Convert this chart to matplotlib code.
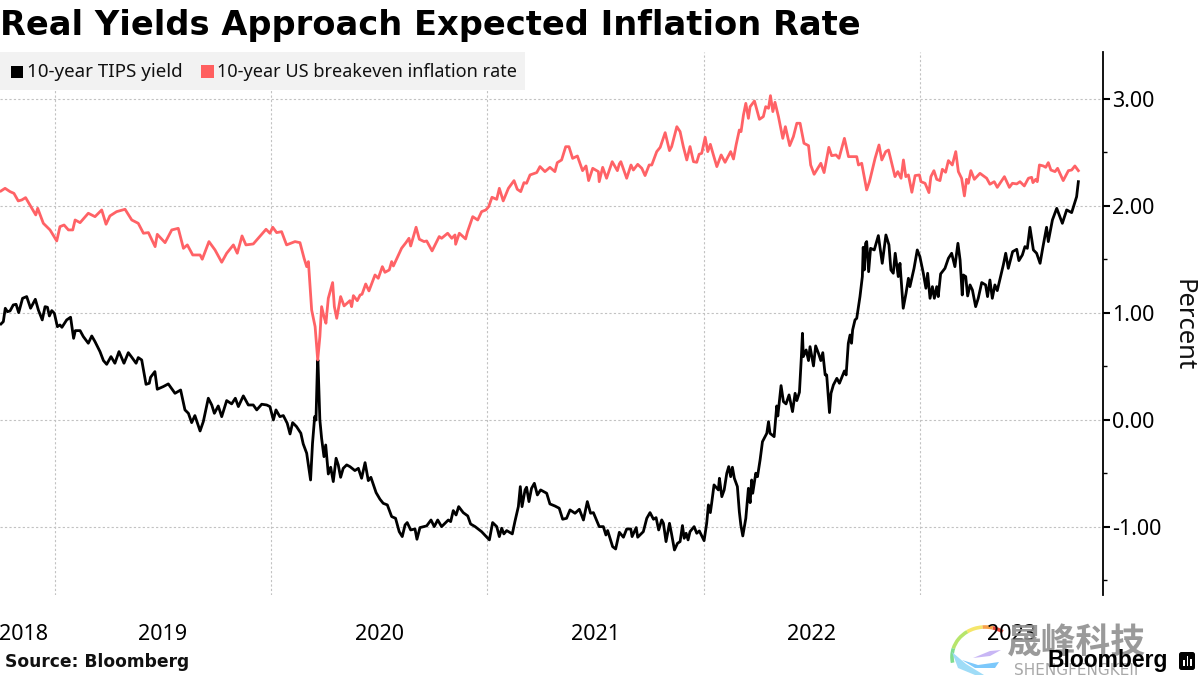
import matplotlib
matplotlib.use("Agg")
import matplotlib.pyplot as plt
from matplotlib.patches import Rectangle, FancyBboxPatch, Arc, Polygon
from matplotlib.ticker import FixedLocator, FuncFormatter, NullFormatter
from matplotlib.transforms import IdentityTransform

TITLE = "Real Yields Approach Expected Inflation Rate"
SOURCE = "Source: Bloomberg"
TIPS_LABEL = "10-year TIPS yield"
BE_LABEL = "10-year US breakeven inflation rate"
Y_LABEL = "Percent"
YEAR_LABELS = ["2018", "2019", "2020", "2021", "2022", "2023"]
YEAR_GRID = [2019, 2020, 2021, 2022, 2023]
Y_MAJOR = [-1, 0, 1, 2, 3]
Y_MINOR = [-1.5, -0.5, 0.5, 1.5, 2.5]

tips_t = [2018.750,2018.761,2018.770,2018.780,2018.792,2018.807,2018.820,2018.832,2018.850,2018.869,2018.887,2018.909,2018.923,2018.941,2018.954,2018.965,2018.974,2018.985,2018.997,
2019.011,2019.023,2019.032,2019.054,2019.072,2019.086,2019.094,2019.116,2019.131,2019.154,2019.170,2019.185,2019.208,2019.224,2019.239,2019.259,2019.277,2019.296,2019.319,2019.339,2019.355,2019.375,2019.385,2019.401,2019.421,2019.436,2019.442,2019.462,2019.473,2019.501,2019.524,2019.555,2019.581,2019.601,2019.617,2019.632,2019.647,2019.671,2019.686,2019.709,2019.725,2019.737,2019.755,2019.771,2019.794,2019.817,2019.834,2019.848,2019.871,2019.894,2019.917,2019.933,2019.956,2019.979,2019.994,
2020.010,2020.022,2020.040,2020.056,2020.074,2020.087,2020.099,2020.117,2020.137,2020.148,2020.164,2020.182,2020.191,2020.201,2020.207,2020.214,2020.216,2020.225,2020.233,2020.244,2020.252,2020.264,2020.275,2020.287,2020.300,2020.310,2020.321,2020.333,2020.349,2020.364,2020.387,2020.403,2020.418,2020.434,2020.449,2020.461,2020.485,2020.503,2020.518,2020.537,2020.557,2020.575,2020.592,2020.606,2020.619,2020.629,2020.645,2020.665,2020.674,2020.688,2020.719,2020.739,2020.754,2020.770,2020.788,2020.819,2020.830,2020.842,2020.855,2020.867,2020.888,2020.909,2020.922,2020.943,2020.973,
2021.009,2021.024,2021.043,2021.055,2021.066,2021.076,2021.089,2021.115,2021.127,2021.143,2021.152,2021.160,2021.174,2021.181,2021.192,2021.204,2021.217,2021.231,2021.246,2021.274,2021.289,2021.312,2021.332,2021.348,2021.366,2021.382,2021.405,2021.425,2021.444,2021.462,2021.477,2021.490,2021.517,2021.536,2021.548,2021.556,2021.579,2021.593,2021.610,2021.629,2021.644,2021.663,2021.669,2021.688,2021.695,2021.721,2021.737,2021.752,2021.768,2021.780,2021.792,2021.806,2021.814,2021.826,2021.842,2021.851,2021.865,2021.879,2021.891,2021.902,2021.910,2021.919,2021.928,2021.937,2021.956,2021.968,2021.980,
2022.002,2022.014,2022.022,2022.031,2022.037,2022.048,2022.068,2022.073,2022.084,2022.095,2022.107,2022.116,2022.125,2022.133,2022.142,2022.156,2022.165,2022.172,2022.181,2022.195,2022.207,2022.215,2022.222,2022.227,2022.241,2022.249,2022.261,2022.272,2022.292,2022.300,2022.307,2022.326,2022.338,2022.343,2022.358,2022.369,2022.381,2022.395,2022.411,2022.423,2022.431,2022.443,2022.452,2022.457,2022.461,2022.474,2022.485,2022.492,2022.508,2022.518,2022.531,2022.542,2022.551,2022.562,2022.569,2022.582,2022.589,2022.600,2022.616,2022.628,2022.651,2022.659,2022.669,2022.677,2022.684,2022.689,2022.700,2022.708,2022.723,2022.734,2022.738,2022.743,2022.749,2022.754,2022.763,2022.772,2022.789,2022.808,2022.826,2022.843,2022.857,2022.866,2022.877,2022.886,2022.900,2022.908,2022.923,2022.936,2022.947,2022.954,2022.973,2022.988,
2023.000,2023.016,2023.028,2023.036,2023.047,2023.058,2023.067,2023.078,2023.085,2023.096,2023.116,2023.132,2023.147,2023.162,2023.176,2023.186,2023.196,2023.201,2023.212,2023.221,2023.232,2023.243,2023.258,2023.270,2023.286,2023.304,2023.313,2023.324,2023.335,2023.347,2023.358,2023.386,2023.397,2023.409,2023.429,2023.448,2023.458,2023.474,2023.486,2023.497,2023.509,2023.525,2023.540,2023.556,2023.568,2023.586,2023.594,2023.613,2023.633,2023.659,2023.679,2023.702,2023.713,2023.725,2023.733]

tips_v = [0.897,0.919,1.044,1.012,1.019,1.075,1.081,1.003,1.137,1.153,1.044,1.128,1.028,0.935,1.059,1.053,0.972,1.022,0.997,
0.872,0.888,0.866,0.935,0.960,0.763,0.835,0.835,0.779,0.717,0.785,0.732,0.639,0.555,0.520,0.592,0.530,0.639,0.530,0.629,0.586,0.530,0.583,0.561,0.333,0.343,0.399,0.452,0.287,0.312,0.337,0.249,0.280,0.094,0.062,-0.025,0.041,-0.103,-0.015,0.203,0.140,0.062,0.131,0.031,0.181,0.150,0.203,0.125,0.225,0.140,0.140,0.094,0.147,0.140,0.125,
0.000,0.094,0.031,0.041,-0.031,-0.131,-0.025,-0.062,-0.124,-0.224,-0.311,-0.561,-0.218,0.031,0.000,0.530,0.561,0.000,-0.171,-0.343,-0.234,-0.505,-0.442,-0.576,-0.358,-0.420,-0.536,-0.452,-0.420,-0.436,-0.473,-0.452,-0.545,-0.399,-0.567,-0.536,-0.679,-0.741,-0.779,-0.794,-0.903,-0.919,-1.044,-1.090,-0.981,-0.959,-1.028,-1.019,-1.115,-1.006,-0.990,-0.935,-0.997,-0.935,-0.997,-0.935,-0.950,-0.847,-0.888,-0.810,-0.866,-0.897,-0.972,-0.997,-1.044,
-1.121,-0.959,-0.997,-1.090,-1.012,-1.065,-1.034,-1.065,-0.950,-0.810,-0.623,-0.810,-0.654,-0.629,-0.763,-0.639,-0.592,-0.701,-0.654,-0.685,-0.785,-0.804,-0.825,-0.928,-0.919,-0.841,-0.872,-0.835,-0.935,-0.763,-0.872,-0.866,-0.997,-0.997,-1.075,-1.034,-1.184,-1.206,-1.050,-1.096,-1.019,-1.019,-1.090,-1.006,-1.096,-1.044,-0.919,-0.866,-0.928,-0.913,-1.028,-0.934,-0.966,-1.137,-0.966,-1.059,-1.215,-1.153,-1.137,-0.987,-1.106,-1.059,-1.121,-1.044,-0.997,-1.059,-1.037,
-1.128,-0.966,-0.794,-0.866,-0.779,-0.607,-0.654,-0.545,-0.717,-0.654,-0.498,-0.436,-0.530,-0.442,-0.545,-0.623,-0.857,-0.982,-1.084,-0.919,-0.639,-0.773,-0.561,-0.685,-0.498,-0.530,-0.374,-0.203,-0.125,-0.016,-0.125,-0.156,0.131,0.037,0.321,0.171,0.150,0.234,0.078,0.249,0.181,0.259,0.592,0.810,0.592,0.654,0.555,0.685,0.505,0.692,0.623,0.555,0.629,0.421,0.421,0.069,0.249,0.327,0.389,0.343,0.458,0.421,0.716,0.794,0.717,0.841,0.935,0.950,1.153,1.340,1.614,1.402,1.651,1.667,1.386,1.604,1.589,1.723,1.464,1.729,1.636,1.402,1.371,1.558,1.340,1.464,1.044,1.184,1.324,1.246,1.417,1.589,
1.527,1.371,1.231,1.371,1.137,1.246,1.137,1.246,1.153,1.365,1.417,1.511,1.558,1.433,1.651,1.495,1.168,1.355,1.340,1.159,1.262,1.215,1.059,1.137,1.284,1.262,1.153,1.308,1.137,1.262,1.209,1.449,1.558,1.417,1.573,1.595,1.489,1.542,1.620,1.604,1.801,1.589,1.558,1.464,1.604,1.801,1.667,1.869,1.978,1.838,1.963,1.938,2.009,2.087,2.227]

be_t = [2018.750,2018.769,2018.792,2018.810,2018.830,2018.846,2018.864,2018.884,2018.911,2018.920,2018.946,2018.977,
2019.008,2019.023,2019.042,2019.062,2019.082,2019.093,2019.116,2019.154,2019.185,2019.216,2019.236,2019.254,2019.285,2019.324,2019.355,2019.385,2019.409,2019.432,2019.463,2019.473,2019.509,2019.540,2019.570,2019.594,2019.612,2019.637,2019.671,2019.681,2019.712,2019.740,2019.771,2019.794,2019.825,2019.843,2019.865,2019.883,2019.917,2019.940,2019.976,2019.994,
2020.007,2020.025,2020.048,2020.071,2020.110,2020.133,2020.152,2020.164,2020.172,2020.187,2020.203,2020.215,2020.225,2020.233,2020.244,2020.253,2020.264,2020.284,2020.292,2020.303,2020.321,2020.337,2020.364,2020.372,2020.380,2020.398,2020.411,2020.420,2020.437,2020.452,2020.480,2020.495,2020.514,2020.526,2020.546,2020.557,2020.565,2020.603,2020.623,2020.637,2020.645,2020.670,2020.685,2020.707,2020.719,2020.744,2020.777,2020.788,2020.816,2020.835,2020.850,2020.853,2020.870,2020.899,2020.908,2020.932,2020.955,2020.973,2020.993,
2021.006,2021.021,2021.043,2021.055,2021.073,2021.097,2021.123,2021.138,2021.154,2021.169,2021.181,2021.197,2021.228,2021.243,2021.266,2021.289,2021.312,2021.323,2021.343,2021.362,2021.377,2021.394,2021.416,2021.440,2021.456,2021.468,2021.487,2021.513,2021.517,2021.533,2021.551,2021.577,2021.601,2021.610,2021.617,2021.644,2021.664,2021.675,2021.695,2021.714,2021.729,2021.748,2021.760,2021.783,2021.799,2021.822,2021.842,2021.852,2021.876,2021.891,2021.906,2021.922,2021.937,2021.953,2021.968,2021.979,2021.991,
2022.007,2022.019,2022.031,2022.045,2022.061,2022.081,2022.099,2022.125,2022.138,2022.150,2022.165,2022.173,2022.184,2022.195,2022.207,2022.215,2022.235,2022.258,2022.276,2022.287,2022.300,2022.309,2022.320,2022.330,2022.346,2022.366,2022.378,2022.398,2022.415,2022.431,2022.446,2022.464,2022.485,2022.495,2022.511,2022.542,2022.557,2022.579,2022.592,2022.612,2022.626,2022.651,2022.670,2022.708,2022.716,2022.731,2022.754,2022.767,2022.793,2022.811,2022.824,2022.842,2022.855,2022.885,2022.898,2022.913,2022.924,2022.935,2022.947,2022.963,2022.978,2022.998,
2023.005,2023.024,2023.042,2023.051,2023.065,2023.078,2023.093,2023.104,2023.119,2023.132,2023.150,2023.166,2023.178,2023.193,2023.206,2023.216,2023.224,2023.236,2023.252,2023.278,2023.309,2023.324,2023.344,2023.358,2023.391,2023.414,2023.428,2023.448,2023.463,2023.483,2023.502,2023.517,2023.523,2023.536,2023.543,2023.553,2023.571,2023.582,2023.594,2023.606,2023.625,2023.637,2023.663,2023.687,2023.702,2023.717,2023.733]

be_v = [2.140,2.165,2.134,2.118,2.047,2.056,2.078,2.009,1.916,1.978,1.838,1.776,
1.673,1.807,1.822,1.776,1.776,1.869,1.844,1.932,1.900,1.963,1.829,1.907,1.947,1.969,1.869,1.838,1.745,1.751,1.620,1.735,1.657,1.776,1.791,1.604,1.636,1.542,1.542,1.502,1.667,1.589,1.474,1.558,1.636,1.558,1.720,1.636,1.645,1.698,1.782,1.745,
1.801,1.751,1.760,1.636,1.667,1.657,1.511,1.433,1.480,1.028,0.872,0.561,0.779,1.059,0.966,0.904,1.137,1.284,1.059,0.950,1.153,1.066,1.115,1.059,1.162,1.115,1.168,1.175,1.271,1.206,1.355,1.324,1.433,1.380,1.402,1.480,1.439,1.605,1.657,1.698,1.626,1.801,1.689,1.667,1.673,1.580,1.714,1.698,1.745,1.698,1.729,1.642,1.745,1.692,1.760,1.900,1.869,1.947,1.963,
1.994,2.081,2.062,2.165,2.047,2.165,2.237,2.156,2.134,2.218,2.212,2.290,2.312,2.368,2.321,2.361,2.321,2.405,2.430,2.554,2.554,2.445,2.467,2.330,2.374,2.237,2.352,2.321,2.227,2.361,2.259,2.414,2.330,2.393,2.414,2.259,2.383,2.336,2.389,2.352,2.284,2.383,2.383,2.508,2.548,2.685,2.517,2.555,2.741,2.695,2.555,2.430,2.555,2.414,2.408,2.483,2.492,
2.642,2.508,2.576,2.477,2.368,2.477,2.408,2.508,2.439,2.570,2.710,2.695,2.850,2.959,2.819,2.928,2.981,2.810,2.835,2.928,2.913,3.031,2.882,2.969,2.835,2.632,2.741,2.564,2.648,2.773,2.773,2.586,2.564,2.383,2.296,2.399,2.312,2.548,2.470,2.477,2.446,2.632,2.461,2.461,2.383,2.399,2.150,2.228,2.446,2.570,2.430,2.508,2.523,2.274,2.321,2.259,2.430,2.274,2.290,2.128,2.284,2.290,
2.227,2.212,2.125,2.274,2.330,2.249,2.237,2.343,2.315,2.424,2.383,2.508,2.321,2.259,2.094,2.249,2.212,2.330,2.249,2.305,2.259,2.203,2.227,2.174,2.274,2.174,2.212,2.206,2.227,2.187,2.259,2.268,2.218,2.249,2.227,2.383,2.374,2.361,2.405,2.336,2.321,2.352,2.237,2.330,2.336,2.374,2.330]

W, H = 1200, 675
fig = plt.figure(figsize=(12, 6.75), dpi=100, facecolor="white")
ax = fig.add_axes([0, 1 - 595 / H, 1103 / W, (595 - 52) / H])
ax.set_xlim(2018.7456, 2023.8470)
ax.set_ylim(-1.636, 3.439)
ax.patch.set_alpha(0)

for s in ["top", "left", "bottom"]:
    ax.spines[s].set_visible(False)
ax.spines["right"].set_linewidth(1.3)
ax.spines["right"].set_color("black")

GRID = "#c2c2c2"
ax.xaxis.set_major_locator(FixedLocator(YEAR_GRID))
ax.xaxis.set_major_formatter(NullFormatter())
ax.tick_params(axis="x", length=0)
ax.yaxis.tick_right()
ax.yaxis.set_major_locator(FixedLocator(Y_MAJOR))
ax.yaxis.set_minor_locator(FixedLocator(Y_MINOR))
ax.yaxis.set_major_formatter(FuncFormatter(lambda v, p: f"{v:.2f}"))
ax.tick_params(axis="y", which="major", length=5, width=1.5, pad=1.5, labelsize=15.5, labelfontfamily="Noto Sans", direction="out")
ax.tick_params(axis="y", which="minor", length=3, width=1.0, direction="out")
ax.grid(True, which="major", axis="both", color=GRID, lw=0.8, ls=(0, (2, 2)), zorder=0)


def px(x, y):
    return x / W, 1 - y / H


def pxd(x, y):
    return x, H - y


# legend box
fig.patches.append(Rectangle(px(0, 90), 525 / W, 38 / H, transform=fig.transFigure,
                             facecolor="#f2f2f2", edgecolor="none", zorder=1))
fig.patches.append(Rectangle(px(11, 78), 12 / W, 12 / H, transform=fig.transFigure,
                             facecolor="black", edgecolor="none", zorder=2))
fig.patches.append(Rectangle(px(201, 78), 13 / W, 13 / H, transform=fig.transFigure,
                             facecolor="#ff5f5f", edgecolor="none", zorder=2))

ax.plot(tips_t, tips_v, color="black", lw=2.0, solid_joinstyle="round", zorder=3)
ax.plot(be_t, be_v, color="#ff6266", lw=2.0, solid_joinstyle="round", zorder=4)

FONT = "Noto Sans"
fig.text(*px(27, 72), TIPS_LABEL, fontsize=13.5, family=FONT, va="center", ha="left", color="#111111")
fig.text(*px(217, 72), BE_LABEL, fontsize=13, family=FONT, va="center", ha="left", color="#111111")

fig.text(*px(0, 25), TITLE, fontsize=24.2, family="DejaVu Sans", weight="bold", va="center", ha="left", color="black")
fig.text(*px(5, 662), SOURCE, fontsize=12.3, family="DejaVu Sans", weight="bold", va="center", ha="left", color="#111111")
fig.text(*px(1183, 325), Y_LABEL, fontsize=18.5, family=FONT, rotation=270, va="center", ha="center", color="#111111")

year_pos = [24, 163, 380, 596, 812, 1011]
for lab, xp in zip(YEAR_LABELS, year_pos):
    fig.text(*px(xp, 635), lab, fontsize=15.5, family=FONT, va="center", ha="center", color="black")

# watermark logo: swirl of coloured arcs
for t1, t2, col in [(55, 75, "#e8473a"), (75, 95, "#f7a14a"), (95, 125, "#f5e66a"),
                    (125, 165, "#b7e56b"), (165, 190, "#7fdc8f")]:
    fig.add_artist(Arc(pxd(985, 657), 66, 60, theta1=t1, theta2=t2, color=col, lw=2.6,
                       transform=IdentityTransform()))
for verts, col in [([(952, 652), (958, 668), (975, 675), (984, 675), (966, 664)], "#9fdcf7"),
                   ([(962, 660), (975, 668), (995, 668), (999, 662), (978, 665)], "#7cc8fb"),
                   ([(973, 658), (990, 656), (1001, 650), (990, 651)], "#c8b6f5")]:
    fig.add_artist(Polygon([pxd(*v) for v in verts], closed=True, facecolor=col,
                           edgecolor="none", transform=IdentityTransform()))

# watermark text and brand
fig.text(*px(1076, 643), "晟峰科技", fontsize=25, family="Noto Sans CJK SC", weight="bold", va="center", ha="center", color="#8f8f8f", alpha=0.9)
fig.text(*px(1076, 670), "SHENGFENGKEJI", fontsize=11, family="DejaVu Sans", va="center", ha="center", color="#a8a8a8")
fig.text(*px(1108, 661), "Bloomberg", fontsize=16.5, family="Liberation Sans", weight="bold", va="center", ha="center", color="black")
fig.patches.append(FancyBboxPatch(pxd(1179, 670), 16, 18, transform=IdentityTransform(),
                                  boxstyle="round,pad=0,rounding_size=2.5", facecolor="black", edgecolor="none", zorder=5))
for bx, bh in [(1183, 6), (1186.5, 10), (1190, 7)]:
    fig.add_artist(Rectangle(pxd(bx, 666), 1.5, bh, facecolor="white", edgecolor="none",
                             transform=IdentityTransform(), zorder=6))

fig.savefig("out.png", dpi=100, facecolor="white")
